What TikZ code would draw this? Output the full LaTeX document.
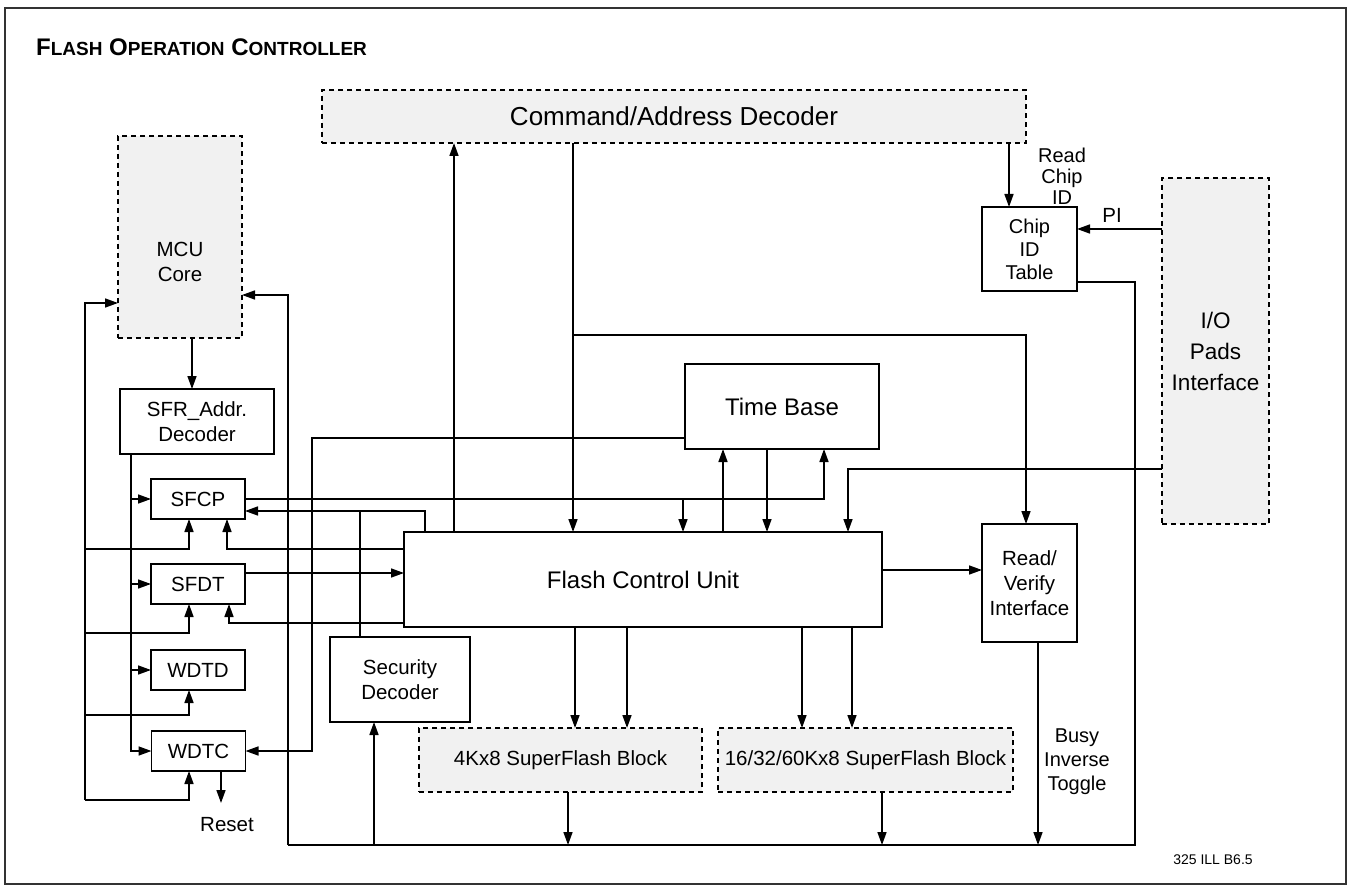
\documentclass[tikz,border=0pt]{standalone}
\usepackage{fontspec}
\setmainfont{Liberation Sans}
\usetikzlibrary{arrows.meta}

\definecolor{blockgray}{HTML}{F1F1F1}
\newcommand\fntbody{\fontsize{20.5}{25}\selectfont}
\newcommand\fntcad{\fontsize{26}{30}\selectfont}
\newcommand\fntfcu{\fontsize{24}{28}\selectfont}
\newcommand\fntio{\fontsize{22.5}{31}\selectfont}
\newcommand\fntnote{\fontsize{14}{16}\selectfont}
% fake small caps for the heading
\newcommand\capword[2]{#1{\fontsize{19}{19}\selectfont #2}}

\begin{document}
\begin{tikzpicture}[x=1pt,y=-1pt,
  wire/.style={line width=1.6pt},
  arr/.style={wire,-{Triangle[length=13pt,width=9pt]}},
  blk/.style={draw,line width=1.8pt,fill=white,inner sep=0pt,outer sep=0pt,
              align=center,font=\fntbody},
  dblk/.style={blk,fill=blockgray,dash pattern=on 5pt off 4pt},
  txt/.style={inner sep=0pt,align=center,font=\fntbody}
]
\useasboundingbox (0,0) rectangle (1351,890);
\draw[line width=1.6pt,black!80] (5,8) rectangle (1346,884);

% heading
\node[anchor=west,inner sep=0pt,font=\bfseries\fontsize{24}{24}\selectfont] (title) at (36,47)
  {\capword{F}{LASH} \capword{O}{PERATION} \capword{C}{ONTROLLER}};

% blocks
\node[dblk,minimum width=704pt,minimum height=53pt,font=\fntcad] (cad) at (674,116.5) {Command/Address Decoder};
\node[dblk,minimum width=124pt,minimum height=202pt] (mcu) at (180,237) {};
\node[txt] (mcutxt) at (180,262) {MCU\\Core};
\node[blk,minimum width=154pt,minimum height=65pt] (sfr) at (197,421.5) {SFR\_Addr.\\Decoder};
\node[blk,minimum width=94pt,minimum height=40pt] (sfcp) at (198,499) {SFCP};
\node[blk,minimum width=94pt,minimum height=40pt] (sfdt) at (198,584) {SFDT};
\node[blk,minimum width=94pt,minimum height=40pt] (wdtd) at (198,670) {WDTD};
\node[blk,minimum width=94pt,minimum height=40pt] (wdtc) at (198.5,751) {WDTC};
\node[blk,minimum width=140pt,minimum height=85pt] (sec) at (400,679.5) {Security\\Decoder};
\node[blk,minimum width=478pt,minimum height=95pt,font=\fntfcu] (fcu) at (643,579.5) {Flash Control Unit};
\node[blk,minimum width=194pt,minimum height=85pt,font=\fntfcu] (tb) at (782,406.5) {Time Base};
\node[blk,minimum width=95pt,minimum height=118pt] (rv) at (1029.5,583) {Read/\\Verify\\Interface};
\node[blk,minimum width=95pt,minimum height=84pt,font=\fontsize{20}{23}\selectfont] (cid) at (1029.5,249) {Chip\\ID\\Table};
\node[dblk,minimum width=107pt,minimum height=346pt,font=\fntio] (iop) at (1215.5,351) {I/O\\Pads\\Interface};
\node[dblk,minimum width=283pt,minimum height=64pt] (b4k) at (560.5,760) {4Kx8 SuperFlash Block};
\node[dblk,minimum width=295pt,minimum height=64pt] (b16) at (865.5,760) {16/32/60Kx8 SuperFlash Block};

% labels
\node[txt,font=\fontsize{20}{21}\selectfont] (lblread) at (1062,176) {Read\\Chip\\ID};
\node[txt] (lblpi) at (1112,215) {PI};
\node[txt,font=\fontsize{20}{24}\selectfont] (lblbusy) at (1077,762) {Busy\\Inverse\\Toggle};
\node[txt] (lblreset) at (227,825) {Reset};
\node[txt,font=\fntnote] (lblill) at (1213,860) {325 ILL B6.5};

% wiring tracks and junctions
\coordinate (xMs) at (192,0);
\coordinate (xSfr) at (131,0);
\coordinate (xSfB) at (189,0);
\coordinate (jL1) at (85,549);
\coordinate (jL2) at (85,633);
\coordinate (jL3) at (85,715);
\coordinate (jL4) at (85,800);
\coordinate (jMcuL) at (85,303);
\coordinate (jMcuR) at (288,295);
\coordinate (jBusL) at (288,845);
\coordinate (jBusR) at (1135,845);
\coordinate (jCidOut) at (1135,282);
\coordinate (rstEnd) at (221,803);
\coordinate (xRst) at (221,0);
\coordinate (x4kOut) at (568,0);
\coordinate (x16Out) at (882,0);
\coordinate (xRvOut) at (1038,0);
\coordinate (xSecIn) at (374,0);
\coordinate (jSecUp) at (360,511);
\coordinate (jFs) at (425,511);
\coordinate (jF1) at (227,549);
\coordinate (jF2) at (229,623);
\coordinate (ySf) at (300,573);
\coordinate (jTbIn) at (824,499);
\coordinate (jSfcpDn) at (683,499);
\coordinate (jTbL) at (312,438);
\coordinate (xCu) at (454,0);
\coordinate (xCd) at (573,0);
\coordinate (jCdR) at (573,335);
\coordinate (jRvIn) at (1026,335);
\coordinate (xCid) at (1009,0);
\coordinate (jPI) at (1100,229);
\coordinate (jIo) at (848,469);
\coordinate (xFt) at (723,0);
\coordinate (xTf) at (767,0);
\coordinate (yFr) at (930,570);
\coordinate (xA1) at (575,0);
\coordinate (xA2) at (627,0);
\coordinate (xB1) at (802,0);
\coordinate (xB2) at (852,0);

% MCU side
\draw[arr] (mcu.south -| xMs) -- (sfr.north -| xMs);
\draw[arr] (jL4) -- (jMcuL) -- (mcu.west |- jMcuL);
\draw[arr] (jL1) -| (sfcp.south -| xSfB);
\draw[arr] (jL2) -| (sfdt.south -| xSfB);
\draw[arr] (jL3) -| (wdtd.south -| xSfB);
\draw[arr] (jL4) -| (wdtc.south -| xSfB);
\draw[arr] (sfr.south -| xSfr) |- (wdtc.west);
\draw[arr] (sfcp.west -| xSfr) -- (sfcp.west);
\draw[arr] (sfdt.west -| xSfr) -- (sfdt.west);
\draw[arr] (wdtd.west -| xSfr) -- (wdtd.west);
\draw[arr] (wdtc.south -| xRst) -- (rstEnd);

% common bus along the bottom
\draw[arr] (jBusL) -- (jMcuR) -- (mcu.east |- jMcuR);
\draw[wire] (cid.east |- jCidOut) -- (jCidOut) -- (jBusR) -- (jBusL);
\draw[arr] (b4k.south -| x4kOut) -- (jBusL -| x4kOut);
\draw[arr] (b16.south -| x16Out) -- (jBusL -| x16Out);
\draw[arr] (rv.south -| xRvOut) -- (jBusL -| xRvOut);
\draw[arr] (jBusL -| xSecIn) -- (sec.south -| xSecIn);

% control lines around the flash control unit
\draw[wire] (sec.north -| jSecUp) -- (jSecUp);
\draw[arr] (fcu.north -| jFs) -- (jFs) -- (sfcp.east |- jFs);
\draw[arr] (fcu.west |- jF1) -- (jF1) -- (sfcp.south -| jF1);
\draw[arr] (fcu.west |- jF2) -- (jF2) -- (sfdt.south -| jF2);
\draw[arr] (sfdt.east |- ySf) -- (fcu.west |- ySf);
\draw[arr] (sfcp.east) -- (jTbIn) -- (tb.south -| jTbIn);
\draw[arr] (jSfcpDn) -- (fcu.north -| jSfcpDn);
\draw[arr] (tb.west |- jTbL) -- (jTbL) |- (wdtc.east);
\draw[arr] (fcu.north -| xCu) -- (cad.south -| xCu);
\draw[arr] (cad.south -| xCd) -- (fcu.north -| xCd);
\draw[arr] (jCdR) -- (jRvIn) -- (rv.north -| jRvIn);
\draw[arr] (cad.south -| xCid) -- (cid.north -| xCid);
\draw[arr] (iop.west |- jPI) -- (cid.east |- jPI);
\draw[arr] (iop.west |- jIo) -- (jIo) -- (fcu.north -| jIo);
\draw[arr] (fcu.north -| xFt) -- (tb.south -| xFt);
\draw[arr] (tb.south -| xTf) -- (fcu.north -| xTf);
\draw[arr] (fcu.east |- yFr) -- (rv.west |- yFr);
\draw[arr] (fcu.south -| xA1) -- (b4k.north -| xA1);
\draw[arr] (fcu.south -| xA2) -- (b4k.north -| xA2);
\draw[arr] (fcu.south -| xB1) -- (b16.north -| xB1);
\draw[arr] (fcu.south -| xB2) -- (b16.north -| xB2);
\end{tikzpicture}
\end{document}
